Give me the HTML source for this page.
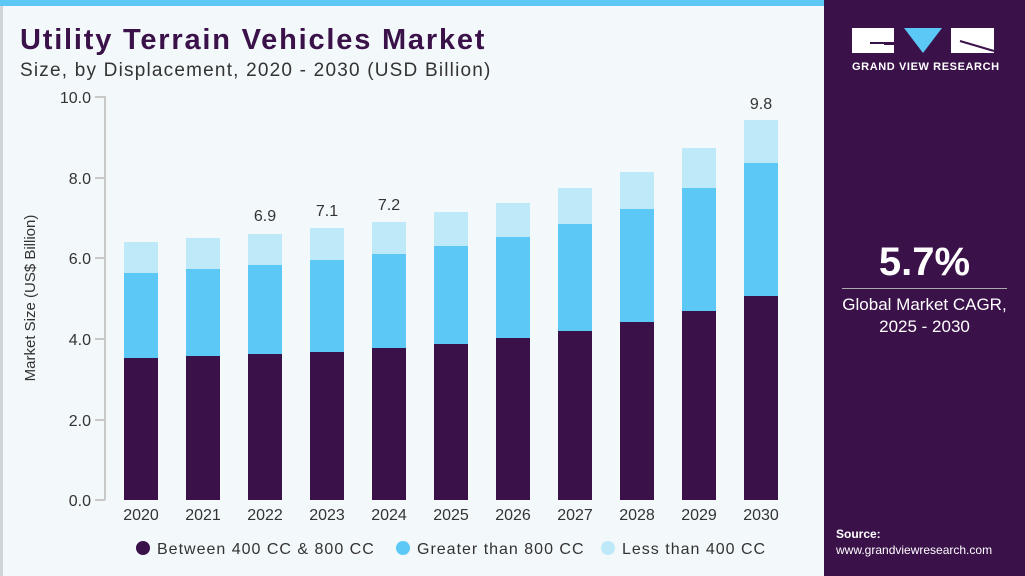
<!DOCTYPE html>
<html><head><style>
body{margin:0;width:1025px;height:576px;overflow:hidden;font-family:"Liberation Sans",sans-serif;background:#f3f8fb;position:relative}
.t{position:absolute;white-space:nowrap}
</style></head><body>
<div style="position:absolute;left:0;top:0;width:824px;height:6px;background:#5bc8f5"></div>
<div style="position:absolute;left:0;top:6px;width:3px;height:570px;background:#d0d5d8"></div>
<div class="t" style="left:20px;top:24px;font-size:29px;font-weight:bold;color:#3a1149;letter-spacing:1.8px">Utility Terrain Vehicles Market</div>
<div class="t" style="left:20px;top:60px;font-size:19px;color:#333;letter-spacing:1.2px">Size, by Displacement, 2020 - 2030 (USD Billion)</div>
<div style="position:absolute;left:824px;top:0;width:201px;height:576px;background:#3a1149"></div>
<svg style="position:absolute;left:852px;top:28px" width="145" height="26">
<rect x="0" y="0" width="42" height="25" fill="#fff"/><rect x="32" y="14" width="20" height="3" fill="#3a1149"/><rect x="18" y="14" width="14" height="2" fill="#3a1149"/>
<polygon points="52,0 90,0 71,25" fill="#5bc8f5"/>
<rect x="99" y="0" width="43" height="25" fill="#fff"/><line x1="108" y1="13" x2="142" y2="23" stroke="#3a1149" stroke-width="2"/>
</svg>
<div class="t" style="left:852px;top:61px;font-size:11px;font-weight:bold;color:#fff;letter-spacing:0.6px">GRAND VIEW RESEARCH</div>
<div class="t" style="left:824px;width:201px;text-align:center;top:240px;font-size:40px;font-weight:bold;color:#fff">5.7%</div>
<div style="position:absolute;left:842px;top:288px;width:165px;height:1px;background:#aaa"></div>
<div class="t" style="left:824px;width:201px;text-align:center;top:294px;font-size:17px;color:#fff;line-height:22px">Global Market CAGR,<br>2025 - 2030</div>
<div class="t" style="left:836px;top:527px;font-size:12px;font-weight:bold;color:#fff">Source:</div>
<div class="t" style="left:836px;top:543px;font-size:12px;color:#fff">www.grandviewresearch.com</div>
<svg style="position:absolute;left:0;top:0" width="824" height="576" font-family="Liberation Sans, sans-serif">
<g stroke="#c8c8c8" stroke-width="2"><line x1="105" y1="96" x2="105" y2="500"/>
<line x1="95" y1="97" x2="105" y2="97"/><line x1="95" y1="178" x2="105" y2="178"/><line x1="95" y1="258" x2="105" y2="258"/><line x1="95" y1="339" x2="105" y2="339"/><line x1="95" y1="420" x2="105" y2="420"/><line x1="95" y1="500" x2="105" y2="500"/></g>
<g font-size="16" fill="#333" text-anchor="end"><text x="91" y="103">10.0</text><text x="91" y="184">8.0</text><text x="91" y="264">6.0</text><text x="91" y="345">4.0</text><text x="91" y="426">2.0</text><text x="91" y="506">0.0</text></g>
<text transform="translate(35,298) rotate(-90)" font-size="15" fill="#333" text-anchor="middle">Market Size (US$ Billion)</text>
<g id="bars"></g>
<g font-size="16" fill="#333" text-anchor="middle">
<text x="141" y="520">2020</text><text x="203" y="520">2021</text><text x="265" y="520">2022</text><text x="327" y="520">2023</text><text x="389" y="520">2024</text><text x="451" y="520">2025</text><text x="513" y="520">2026</text><text x="575" y="520">2027</text><text x="637" y="520">2028</text><text x="699" y="520">2029</text><text x="761" y="520">2030</text>
<text x="265" y="221">6.9</text><text x="327" y="216">7.1</text><text x="389" y="210">7.2</text><text x="761" y="109">9.8</text></g>
<g font-size="16" fill="#333" letter-spacing="1"><circle cx="143" cy="548" r="7" fill="#3a1149"/><text x="157" y="554">Between 400 CC &amp; 800 CC</text>
<circle cx="403" cy="548" r="7" fill="#5bc8f5"/><text x="417" y="554">Greater than 800 CC</text>
<circle cx="608" cy="548" r="7" fill="#bde9f9"/><text x="622" y="554">Less than 400 CC</text></g>
</svg>
<script>
var d=[[358,273,242],[356,269,238],[354,265,234],[352,260,228],[348,254,222],[344,246,212],[338,237,203],[331,224,188],[322,209,172],[311,188,148],[296,163,120]];
var s="";d.forEach(function(v,i){var x=124+62*i;
s+='<rect x="'+x+'" y="'+v[2]+'" width="34" height="'+(v[1]-v[2])+'" fill="#bde9f9"/>';
s+='<rect x="'+x+'" y="'+v[1]+'" width="34" height="'+(v[0]-v[1])+'" fill="#5bc8f5"/>';
s+='<rect x="'+x+'" y="'+v[0]+'" width="34" height="'+(500-v[0])+'" fill="#3a1149"/>';});
document.getElementById("bars").innerHTML=s;
</script>
</body></html>
